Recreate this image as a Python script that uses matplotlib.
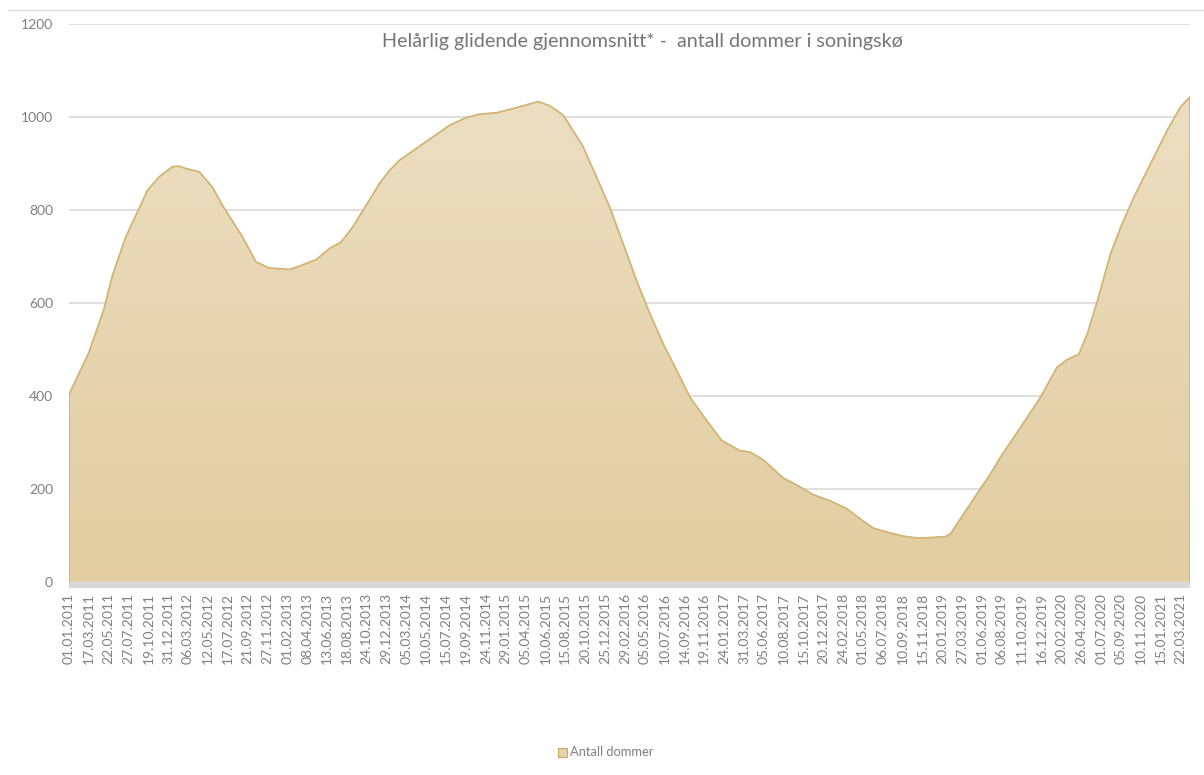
import matplotlib.pyplot as plt
import numpy as np
from matplotlib.colors import LinearSegmentedColormap
from matplotlib.patches import Rectangle
from matplotlib.lines import Line2D

plt.rcParams['font.family'] = ['Lato', 'DejaVu Sans']

date_labels = ["01.01.2011", "17.03.2011", "22.05.2011", "27.07.2011", "19.10.2011",
               "31.12.2011", "06.03.2012", "12.05.2012", "17.07.2012", "21.09.2012",
               "27.11.2012", "01.02.2013", "08.04.2013", "13.06.2013", "18.08.2013",
               "24.10.2013", "29.12.2013", "05.03.2014", "10.05.2014", "15.07.2014",
               "19.09.2014", "24.11.2014", "29.01.2015", "05.04.2015", "10.06.2015",
               "15.08.2015", "20.10.2015", "25.12.2015", "29.02.2016", "05.05.2016",
               "10.07.2016", "14.09.2016", "19.11.2016", "24.01.2017", "31.03.2017",
               "05.06.2017", "10.08.2017", "15.10.2017", "20.12.2017", "24.02.2018",
               "01.05.2018", "06.07.2018", "10.09.2018", "15.11.2018", "20.01.2019",
               "27.03.2019", "01.06.2019", "06.08.2019", "11.10.2019", "16.12.2019",
               "20.02.2020", "26.04.2020", "01.07.2020", "05.09.2020", "10.11.2020",
               "15.01.2021", "22.03.2021"]

# position on the category axis (in label steps) and the value
pos = [0, 1.01, 1.77, 2.18, 2.86, 3.53, 3.95, 4.54, 5.21, 5.55, 5.89, 6.56, 7.23, 7.73,
       8.74, 9.42, 10.09, 11.10, 11.60, 12.45, 13.12, 13.71, 14.29, 14.97, 15.64,
       16.15, 16.65, 17.49, 18.33, 19.17, 20.02, 20.69, 21.53, 22.37, 22.70, 23.21,
       23.63, 24.22, 24.89, 25.39, 25.90, 26.57, 27.24, 27.92, 28.59, 29.26, 29.93,
       30.61, 31.28, 32.12, 32.88, 33.80, 34.31, 34.98, 35.99, 36.66, 37.50, 38.35,
       39.19, 39.86, 40.53, 41.37, 42.04, 42.72, 43.39, 44.15, 44.40, 45.07, 45.91,
       46.42, 46.92, 47.93, 48.94, 49.78, 50.29, 50.88, 51.30, 51.81, 52.47, 52.98,
       53.65, 54.49, 55.33, 56.00, 56.47]
antall = [403, 494, 588, 658, 742, 803, 842, 871, 893, 894, 889, 882, 849, 810,
          742, 688, 675, 672, 679, 693, 717, 731, 763, 810, 857,
          885, 907, 932, 957, 982, 999, 1006, 1009, 1018, 1022, 1028,
          1033, 1024, 1004, 971, 936, 871, 806, 727, 648, 577, 512,
          455, 397, 347, 304, 282, 279, 262, 223, 208, 187, 174,
          157, 135, 115, 105, 98, 94, 95, 97, 103, 146, 200,
          232, 268, 332, 397, 462, 478, 490, 534, 605, 706, 763,
          828, 900, 972, 1022, 1043]

W, H = 1204, 775
fig = plt.figure(figsize=(W / 100, H / 100), dpi=100)
ax = fig.add_axes([69 / W, 1 - 588 / H, (1190 - 69) / W, (588 - 24) / H])

# area with vertical gradient
poly = ax.fill_between(pos, antall, 0, facecolor='none', edgecolor='none')
grad = np.linspace(0, 1, 256).reshape(-1, 1)
cmap = LinearSegmentedColormap.from_list('sand', ['#E3CDA1', '#EBDEC1'])
im = ax.imshow(grad, extent=[0, pos[-1], 0, max(antall)], origin='lower',
               aspect='auto', cmap=cmap, zorder=2)
im.set_clip_path(poly.get_paths()[0], ax.transData)

ax.plot([pos[0]] + pos + [pos[-1]], [0] + antall + [0], color='#D2B475', lw=1.3,
        zorder=3, solid_joinstyle='round')

ax.axhspan(-13.5, 0, color='#D9D9D9', lw=0, zorder=4)

ax.set_xlim(0, pos[-1])
ax.set_ylim(-13.5, 1200)
ax.set_yticks(range(0, 1201, 200))
ax.yaxis.grid(True, color='#D9D9D9', lw=1.2)
ax.set_axisbelow(True)
for s in ax.spines.values():
    s.set_visible(False)

ax.set_xticks(range(len(date_labels)))
ax.set_xticklabels(date_labels, rotation=90, fontsize=10, color='#808080')
ax.tick_params(axis='x', length=0, pad=3.5)
ax.tick_params(axis='y', length=0, pad=11.5, labelsize=10, labelcolor='#808080')

fig.text(642 / W, 1 - 42 / H, "Helårlig glidende gjennomsnitt* -  antall dommer i soningskø",
         ha='center', va='center', fontsize=14.2, color='#767676')

fig.patches.append(Rectangle((558 / W, 1 - 757 / H), 9 / W, 9 / H, transform=fig.transFigure,
                             facecolor='#E6D3AA', edgecolor='#C9A95E', lw=0.8))
fig.text(570 / W, 1 - 752 / H, "Antall dommer", ha='left', va='center',
         fontsize=9.3, color='#808080')

fig.add_artist(Line2D([8 / W, 1], [1 - 9.5 / H] * 2, color='#D9D9D9', lw=1))

fig.savefig('out.png', dpi=100)
